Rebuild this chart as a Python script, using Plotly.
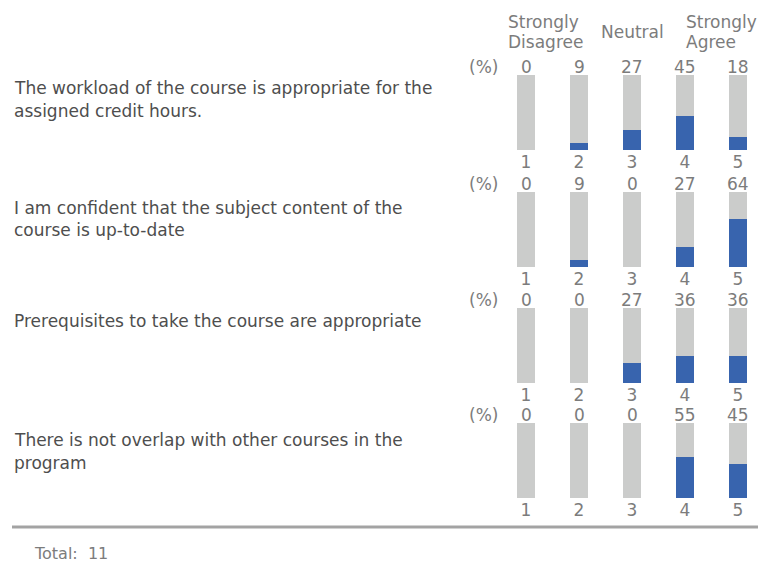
import plotly.graph_objects as go

# ---- data -------------------------------------------------------------
question_lines = [
    ["The workload of the course is appropriate for the", "assigned credit hours."],
    ["I am confident that the subject content of the", "course is up-to-date"],
    ["Prerequisites to take the course are appropriate"],
    ["There is not overlap with other courses in the", "program"],
]
scale_points = [1, 2, 3, 4, 5]
percentages = [
    [0, 9, 27, 45, 18],
    [0, 9, 0, 27, 64],
    [0, 0, 27, 36, 36],
    [0, 0, 0, 55, 45],
]
total_responses = 11

# ---- page geometry (pixels) ---------------------------------------------
W, H = 758, 565
bar_tops = [75, 192, 308, 423]
bar_height = 75
text_line_y = [[88, 111], [208, 230], [321], [440, 463]]
col1_x, col_step = 526, 53
plot_left, plot_right = 500, 758
bar_px = 18

GRAY_BAR = "#cbcccb"
BLUE_BAR = "#3864ae"
LABEL = "#7c7c7c"
QTEXT = "#4e4e4e"
FONT = "DejaVu Sans"


def px_x(x):
    return x / W


def px_y(y):
    return 1 - y / H


x_range = [1 + (plot_left - col1_x) / col_step, 1 + (plot_right - col1_x) / col_step]
bar_w = bar_px / col_step

fig = go.Figure()
annotations = []
layout_axes = {}

for i, vals in enumerate(percentages):
    n = i + 1
    xa = "x" if n == 1 else f"x{n}"
    ya = "y" if n == 1 else f"y{n}"
    # full-height grey tracks
    fig.add_trace(go.Bar(
        x=scale_points, y=[100] * len(scale_points), width=bar_w,
        marker=dict(color=GRAY_BAR, line=dict(width=0)),
        xaxis=xa, yaxis=ya, hoverinfo="skip", showlegend=False,
    ))
    # share of responses
    fig.add_trace(go.Bar(
        x=scale_points, y=vals, width=bar_w,
        marker=dict(color=BLUE_BAR, line=dict(width=0)),
        xaxis=xa, yaxis=ya, showlegend=False,
    ))
    top = bar_tops[i]
    layout_axes[f"xaxis{'' if n == 1 else n}"] = dict(
        domain=[px_x(plot_left), px_x(plot_right)], range=x_range,
        anchor=ya, tickvals=scale_points, ticktext=[str(s) for s in scale_points],
        tickfont=dict(family=FONT, size=17, color=LABEL),
        showgrid=False, zeroline=False, showline=False, ticks="",
        fixedrange=True,
    )
    layout_axes[f"yaxis{'' if n == 1 else n}"] = dict(
        domain=[px_y(top + bar_height), px_y(top)], range=[0, 100],
        anchor=xa, visible=False, fixedrange=True,
    )
    for s, v in zip(scale_points, vals):
        annotations.append(dict(
            x=s, y=100, xref=xa, yref=ya, text=str(v), showarrow=False,
            xanchor="center", yanchor="middle", yshift=8,
            font=dict(family=FONT, size=17, color=LABEL),
        ))
    annotations.append(dict(
        x=px_x(483.5), y=px_y(top - 8), xref="paper", yref="paper",
        text="(%)", showarrow=False, xanchor="center", yanchor="middle",
        font=dict(family=FONT, size=17, color=LABEL),
    ))
    for line, ly in zip(question_lines[i], text_line_y[i]):
        annotations.append(dict(
            x=px_x(12), y=px_y(ly), xref="paper", yref="paper", text=line,
            showarrow=False, xanchor="left", yanchor="middle",
            font=dict(family=FONT, size=17, color=QTEXT),
        ))

# scale headings
for txt, x, y, anchor in [
    ("Strongly", 506, 22, "left"), ("Disagree", 506, 42, "left"),
    ("Neutral", 632, 32, "center"),
    ("Strongly", 684, 22, "left"), ("Agree", 684, 42, "left"),
]:
    annotations.append(dict(
        x=px_x(x), y=px_y(y), xref="paper", yref="paper", text=txt,
        showarrow=False, xanchor=anchor, yanchor="middle",
        font=dict(family=FONT, size=17, color=LABEL),
    ))

annotations.append(dict(
    x=px_x(32), y=px_y(553), xref="paper", yref="paper",
    text=f"Total:\u00a0 {total_responses}", showarrow=False,
    xanchor="left", yanchor="middle",
    font=dict(family=FONT, size=16, color=LABEL),
))

fig.update_layout(
    width=W, height=H, margin=dict(l=0, r=0, t=0, b=0),
    paper_bgcolor="white", plot_bgcolor="white",
    barmode="overlay", bargap=0,
    annotations=annotations,
    shapes=[dict(type="line", xref="paper", yref="paper",
                 x0=px_x(12), x1=1, y0=px_y(527), y1=px_y(527),
                 line=dict(color="#a3a3a3", width=3))],
    **layout_axes,
)

fig.write_html("out.html")
